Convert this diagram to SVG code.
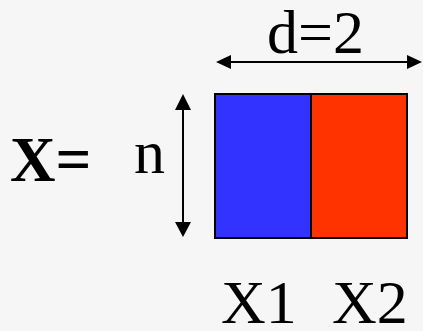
<svg xmlns="http://www.w3.org/2000/svg" width="423" height="331" viewBox="0 0 423 331">
<style>
.t{font-family:"Liberation Serif","Times New Roman",serif;fill:#000}
.ln{stroke:#000;stroke-width:2;fill:none}
.hd{fill:#000}
</style>
<rect width="423" height="331" fill="#f6f6f6"/>
<g id="label-X">
<text class="t" x="10" y="181" font-size="63" font-weight="bold">X=</text>
</g>
<g id="label-n">
<text class="t" x="134" y="173" font-size="62">n</text>
</g>
<g id="label-d">
<text class="t" x="267" y="53" font-size="62">d=2</text>
</g>
<g id="matrix">
<rect x="215" y="94" width="96" height="144" fill="#3333ff" stroke="#000" stroke-width="2"/>
<rect x="311" y="94" width="96" height="144" fill="#ff3300" stroke="#000" stroke-width="2"/>
</g>
<g id="label-X1"><text class="t" x="221" y="323" font-size="62">X1</text></g>
<g id="label-X2"><text class="t" x="332" y="323" font-size="62">X2</text></g>
<g id="connectors">
<line class="ln" x1="228" y1="62" x2="410" y2="62"/>
<polygon class="hd" points="216,62 231,55 231,69"/>
<polygon class="hd" points="422,62 407,55 407,69"/>
<line class="ln" x1="183" y1="107" x2="183" y2="225"/>
<polygon class="hd" points="183,94 175,110 191,110"/>
<polygon class="hd" points="183,237 175,222 191,222"/>
</g>
</svg>
